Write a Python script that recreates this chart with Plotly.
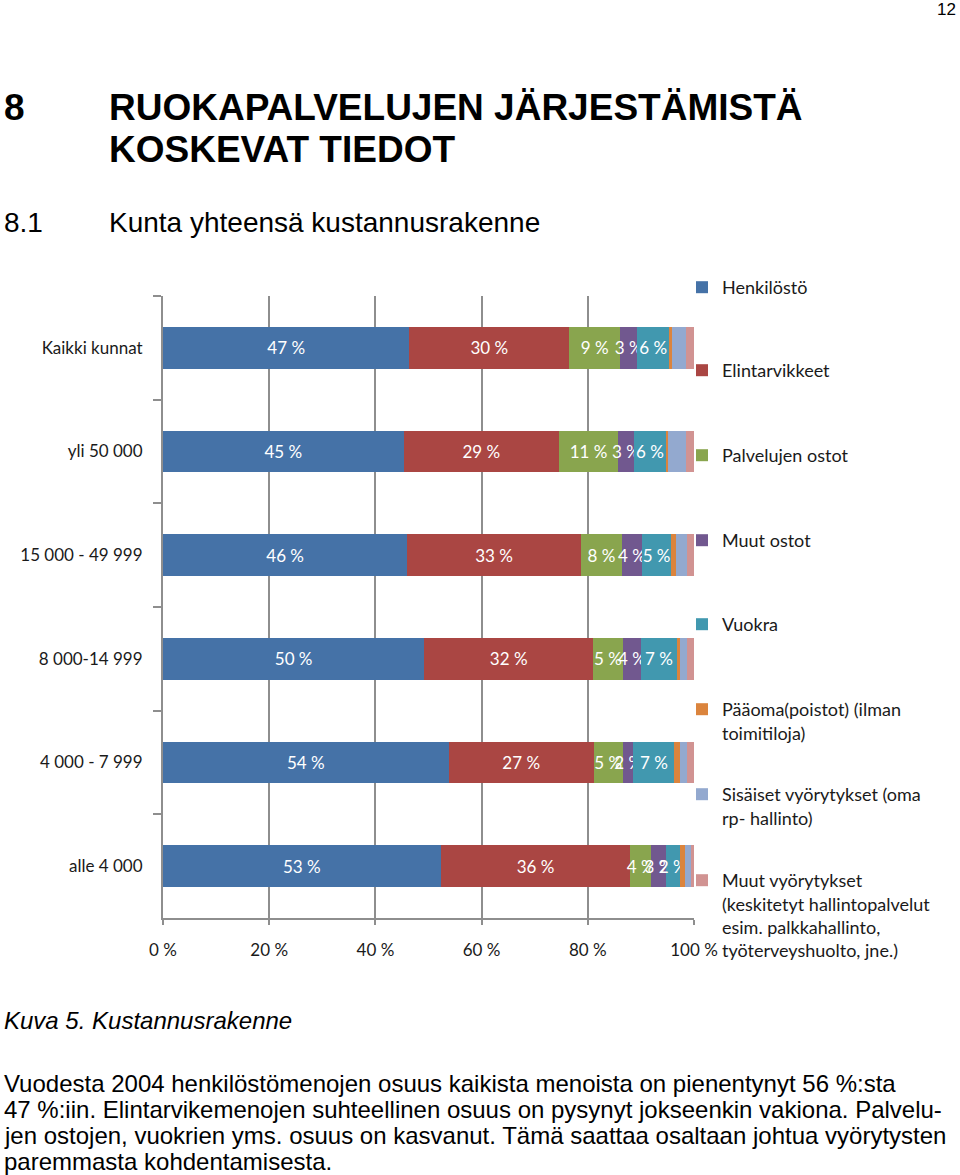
import plotly.graph_objects as go

# kuntakokoluokat ylhäältä alas
categories = ["Kaikki kunnat", "yli 50 000", "15 000 - 49 999", "8 000-14 999", "4 000 - 7 999", "alle 4 000"]

# osuudet (%) luettu kuvasta
henkilosto = [46.4, 45.3, 46.0, 49.2, 53.8, 52.3]
elintarvikkeet = [30.1, 29.3, 32.7, 31.8, 27.3, 35.7]
palvelujen_ostot = [9.6, 11.1, 7.7, 5.6, 5.5, 3.9]
muut_ostot = [3.2, 3.0, 3.8, 3.4, 2.0, 2.8]
vuokra = [6.0, 6.0, 5.5, 6.8, 7.7, 2.6]
paaoma = [0.6, 0.4, 0.9, 0.6, 1.1, 1.0]
sisaiset = [2.6, 3.4, 2.1, 1.3, 1.3, 1.1]
muut_vyor = [1.5, 1.5, 1.3, 1.3, 1.3, 0.6]

# arvolaput palkeissa
lbl_henkilosto = ["47 %", "45 %", "46 %", "50 %", "54 %", "53 %"]
lbl_elintarvikkeet = ["30 %", "29 %", "33 %", "32 %", "27 %", "36 %"]
lbl_palvelut = ["9 %", "11 %", "8 %", "5 %", "5 %", "4 %"]
lbl_muut_ostot = ["3 %", "3 %", "4 %", "4 %", "2 %", "3 %"]
lbl_vuokra = ["6 %", "6 %", "5 %", "7 %", "7 %", "2 %"]
no_lbl = [""] * 6

xticks = [0, 20, 40, 60, 80, 100]

series = [
    ("Henkilöstö", henkilosto, lbl_henkilosto, "#4572A7"),
    ("Elintarvikkeet", elintarvikkeet, lbl_elintarvikkeet, "#AA4643"),
    ("Palvelujen ostot", palvelujen_ostot, lbl_palvelut, "#89A54E"),
    ("Muut ostot", muut_ostot, lbl_muut_ostot, "#71588F"),
    ("Vuokra", vuokra, lbl_vuokra, "#4198AF"),
    ("Pääoma(poistot) (ilman<br>toimitiloja)", paaoma, no_lbl, "#DB843D"),
    ("Sisäiset vyörytykset (oma<br>rp- hallinto)", sisaiset, no_lbl, "#93A9CF"),
    ("Muut vyörytykset<br>(keskitetyt hallintopalvelut<br>esim. palkkahallinto,<br>työterveyshuolto, jne.)",
     muut_vyor, no_lbl, "#D19392"),
]

# legendan rivien pystykohdat (px)
legend_y = [286, 369, 454, 539, 623, 708, 793, 879]

W, H = 960, 1175
L, R, T, B = 163, 694, 296, 918


def paper(x, y):
    return (x - L) / (R - L), (B - y) / (B - T)


CHART_FONT = "Lato, Calibri, Arial, sans-serif"
PAGE_FONT = "Liberation Sans, Arial, sans-serif"

fig = go.Figure()
for i, (name, vals, lbls, col) in enumerate(series):
    fig.add_trace(go.Bar(
        y=categories, x=vals, name=name, orientation="h",
        marker=dict(color=col, line=dict(width=0)),
        text=lbls, textposition="inside", insidetextanchor="middle", textangle=0,
        textfont=dict(color="white", size=17, family=CHART_FONT),
        legend="legend" if i == 0 else "legend%d" % (i + 1),
        hoverinfo="x+y+name",
    ))

layout_legends = {}
for i, ly in enumerate(legend_y):
    lx, lyp = paper(682, ly - 17)
    key = "legend" if i == 0 else "legend%d" % (i + 1)
    layout_legends[key] = dict(
        x=lx, y=lyp, xanchor="left", yanchor="top",
        bgcolor="rgba(0,0,0,0)", borderwidth=0, valign="top",
        font=dict(family=CHART_FONT, size=18, color="#1a1a1a"),
    )

fig.update_layout(
    width=W, height=H,
    margin=dict(l=L, r=W - R, t=T, b=H - B),
    paper_bgcolor="white", plot_bgcolor="white",
    barmode="stack", bargap=0.6,
    uniformtext=dict(minsize=17, mode="show"),
    showlegend=True,
    **layout_legends,
)

fig.update_xaxes(
    range=[0, 100], tickvals=xticks, ticktext=["%d %%" % v for v in xticks],
    showgrid=True, gridcolor="#8E8E8E", gridwidth=2,
    showline=True, linecolor="#8E8E8E", linewidth=2,
    ticks="outside", ticklen=5, tickcolor="#8E8E8E", tickwidth=2,
    ticklabelstandoff=11, zeroline=False,
    tickfont=dict(family=CHART_FONT, size=17, color="#1a1a1a"),
)
fig.update_yaxes(
    categoryorder="array", categoryarray=categories, autorange="reversed",
    showgrid=False, showline=True, linecolor="#8E8E8E", linewidth=2,
    ticks="outside", tickson="boundaries", ticklen=8, tickcolor="#8E8E8E", tickwidth=2,
    ticklabelstandoff=15,
    tickfont=dict(family=CHART_FONT, size=17, color="#1a1a1a"),
)

# sivun tekstit
page_texts = [
    (946, 10, "12", 17, "center", False, False),
    (2, 107, "8", 37, "left", True, False),
    (107, 107, "RUOKAPALVELUJEN JÄRJESTÄMISTÄ", 37, "left", True, False),
    (107, 150, "KOSKEVAT TIEDOT", 37, "left", True, False),
    (2, 223, "8.1", 28, "left", False, False),
    (107, 223, "Kunta yhteensä kustannusrakenne", 28, "left", False, False),
    (2, 1020, "Kuva 5. Kustannusrakenne", 24, "left", False, True),
    (2, 1083, "Vuodesta 2004 henkilöstömenojen osuus kaikista menoista on pienentynyt 56 %:sta", 24, "left", False, False),
    (2, 1109, "47 %:iin. Elintarvikemenojen suhteellinen osuus on pysynyt jokseenkin vakiona. Palvelu-", 24, "left", False, False),
    (2, 1135, "jen ostojen, vuokrien yms. osuus on kasvanut. Tämä saattaa osaltaan johtua vyörytysten", 24, "left", False, False),
    (2, 1161, "paremmasta kohdentamisesta.", 24, "left", False, False),
]
for x, y, txt, size, anchor, bold, italic in page_texts:
    ax, ay = paper(x, y)
    fig.add_annotation(
        x=ax, y=ay, xref="paper", yref="paper", text=txt, showarrow=False,
        xanchor=anchor, yanchor="middle",
        font=dict(family=PAGE_FONT, size=size, color="black",
                  weight="bold" if bold else "normal",
                  style="italic" if italic else "normal"),
    )

# sivun oletusreunus pois, jotta kuva alkaa ikkunan kulmasta
fig.write_html("out.html", config={"displayModeBar": False},
               post_script="document.body.style.margin='0';")
